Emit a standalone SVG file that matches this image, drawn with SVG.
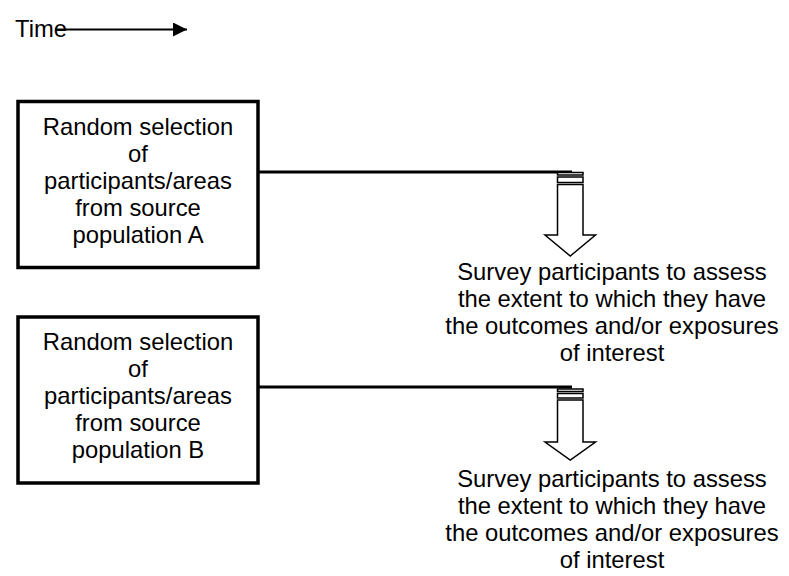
<svg xmlns="http://www.w3.org/2000/svg" width="789" height="576" viewBox="0 0 789 576">
  <defs>
    <marker id="head" viewBox="0 0 10 10" refX="10" refY="5" markerWidth="7" markerHeight="7" markerUnits="strokeWidth" orient="auto">
      <path d="M0,0 L10,5 L0,10 Z" fill="#000"/>
    </marker>
    <style>
      text { font-family: "Liberation Sans", Arial, sans-serif; font-size: 23.8px; fill: #000; }
      .box { fill: #fff; stroke: #000; stroke-width: 3.5; }
      .link { fill: none; stroke: #000; stroke-width: 3; }
      .stripe { fill: #fff; stroke: #000; stroke-width: 1.5; }
      .mid { text-anchor: middle; }
    </style>
  </defs>
  <rect width="789" height="576" fill="#fff"/>

  <!-- time axis -->
  <g id="time-axis">
    <text x="15" y="37">Time</text>
    <line x1="55" y1="29.5" x2="187" y2="29.5" stroke="#000" stroke-width="2" marker-end="url(#head)"/>
  </g>

  <!-- connectors from each selection box to its survey arrow -->
  <g id="connectors">
    <line class="link" x1="258" y1="172" x2="572" y2="172"/>
    <line class="link" x1="258" y1="387" x2="572" y2="387"/>
  </g>

  <!-- source population A -->
  <g id="selection-a">
    <rect class="box" x="18" y="101.5" width="240" height="166"/>
    <text class="mid" x="138" y="135">Random selection</text>
    <text class="mid" x="138" y="162">of</text>
    <text class="mid" x="138" y="189">participants/areas</text>
    <text class="mid" x="138" y="216">from source</text>
    <text class="mid" x="138" y="243">population A</text>
  </g>

  <!-- striped down arrow A -->
  <g id="arrow-a">
    <rect class="stripe" x="557.5" y="172.5" width="25.5" height="2.5"/>
    <rect class="stripe" x="557.5" y="177" width="25.5" height="5.5"/>
    <path class="stripe" d="M557.5,184.5 L583,184.5 L583,235 L595.5,235 L570.25,256 L545,235 L557.5,235 Z"/>
  </g>

  <!-- survey A -->
  <g id="survey-a">
    <text class="mid" x="612" y="280">Survey participants to assess</text>
    <text class="mid" x="612" y="307">the extent to which they have</text>
    <text class="mid" x="612" y="334">the outcomes and/or exposures</text>
    <text class="mid" x="612" y="361">of interest</text>
  </g>

  <!-- source population B -->
  <g id="selection-b">
    <rect class="box" x="18" y="317" width="240" height="166"/>
    <text class="mid" x="138" y="350">Random selection</text>
    <text class="mid" x="138" y="377">of</text>
    <text class="mid" x="138" y="404">participants/areas</text>
    <text class="mid" x="138" y="431">from source</text>
    <text class="mid" x="138" y="458">population B</text>
  </g>

  <!-- striped down arrow B -->
  <g id="arrow-b">
    <rect class="stripe" x="557.5" y="389" width="25.5" height="2.5"/>
    <rect class="stripe" x="557.5" y="393.5" width="25.5" height="4.5"/>
    <path class="stripe" d="M557.5,400 L583,400 L583,442 L595.5,442 L570.25,460 L545,442 L557.5,442 Z"/>
  </g>

  <!-- survey B -->
  <g id="survey-b">
    <text class="mid" x="612" y="487">Survey participants to assess</text>
    <text class="mid" x="612" y="514">the extent to which they have</text>
    <text class="mid" x="612" y="541">the outcomes and/or exposures</text>
    <text class="mid" x="612" y="568">of interest</text>
  </g>
</svg>
